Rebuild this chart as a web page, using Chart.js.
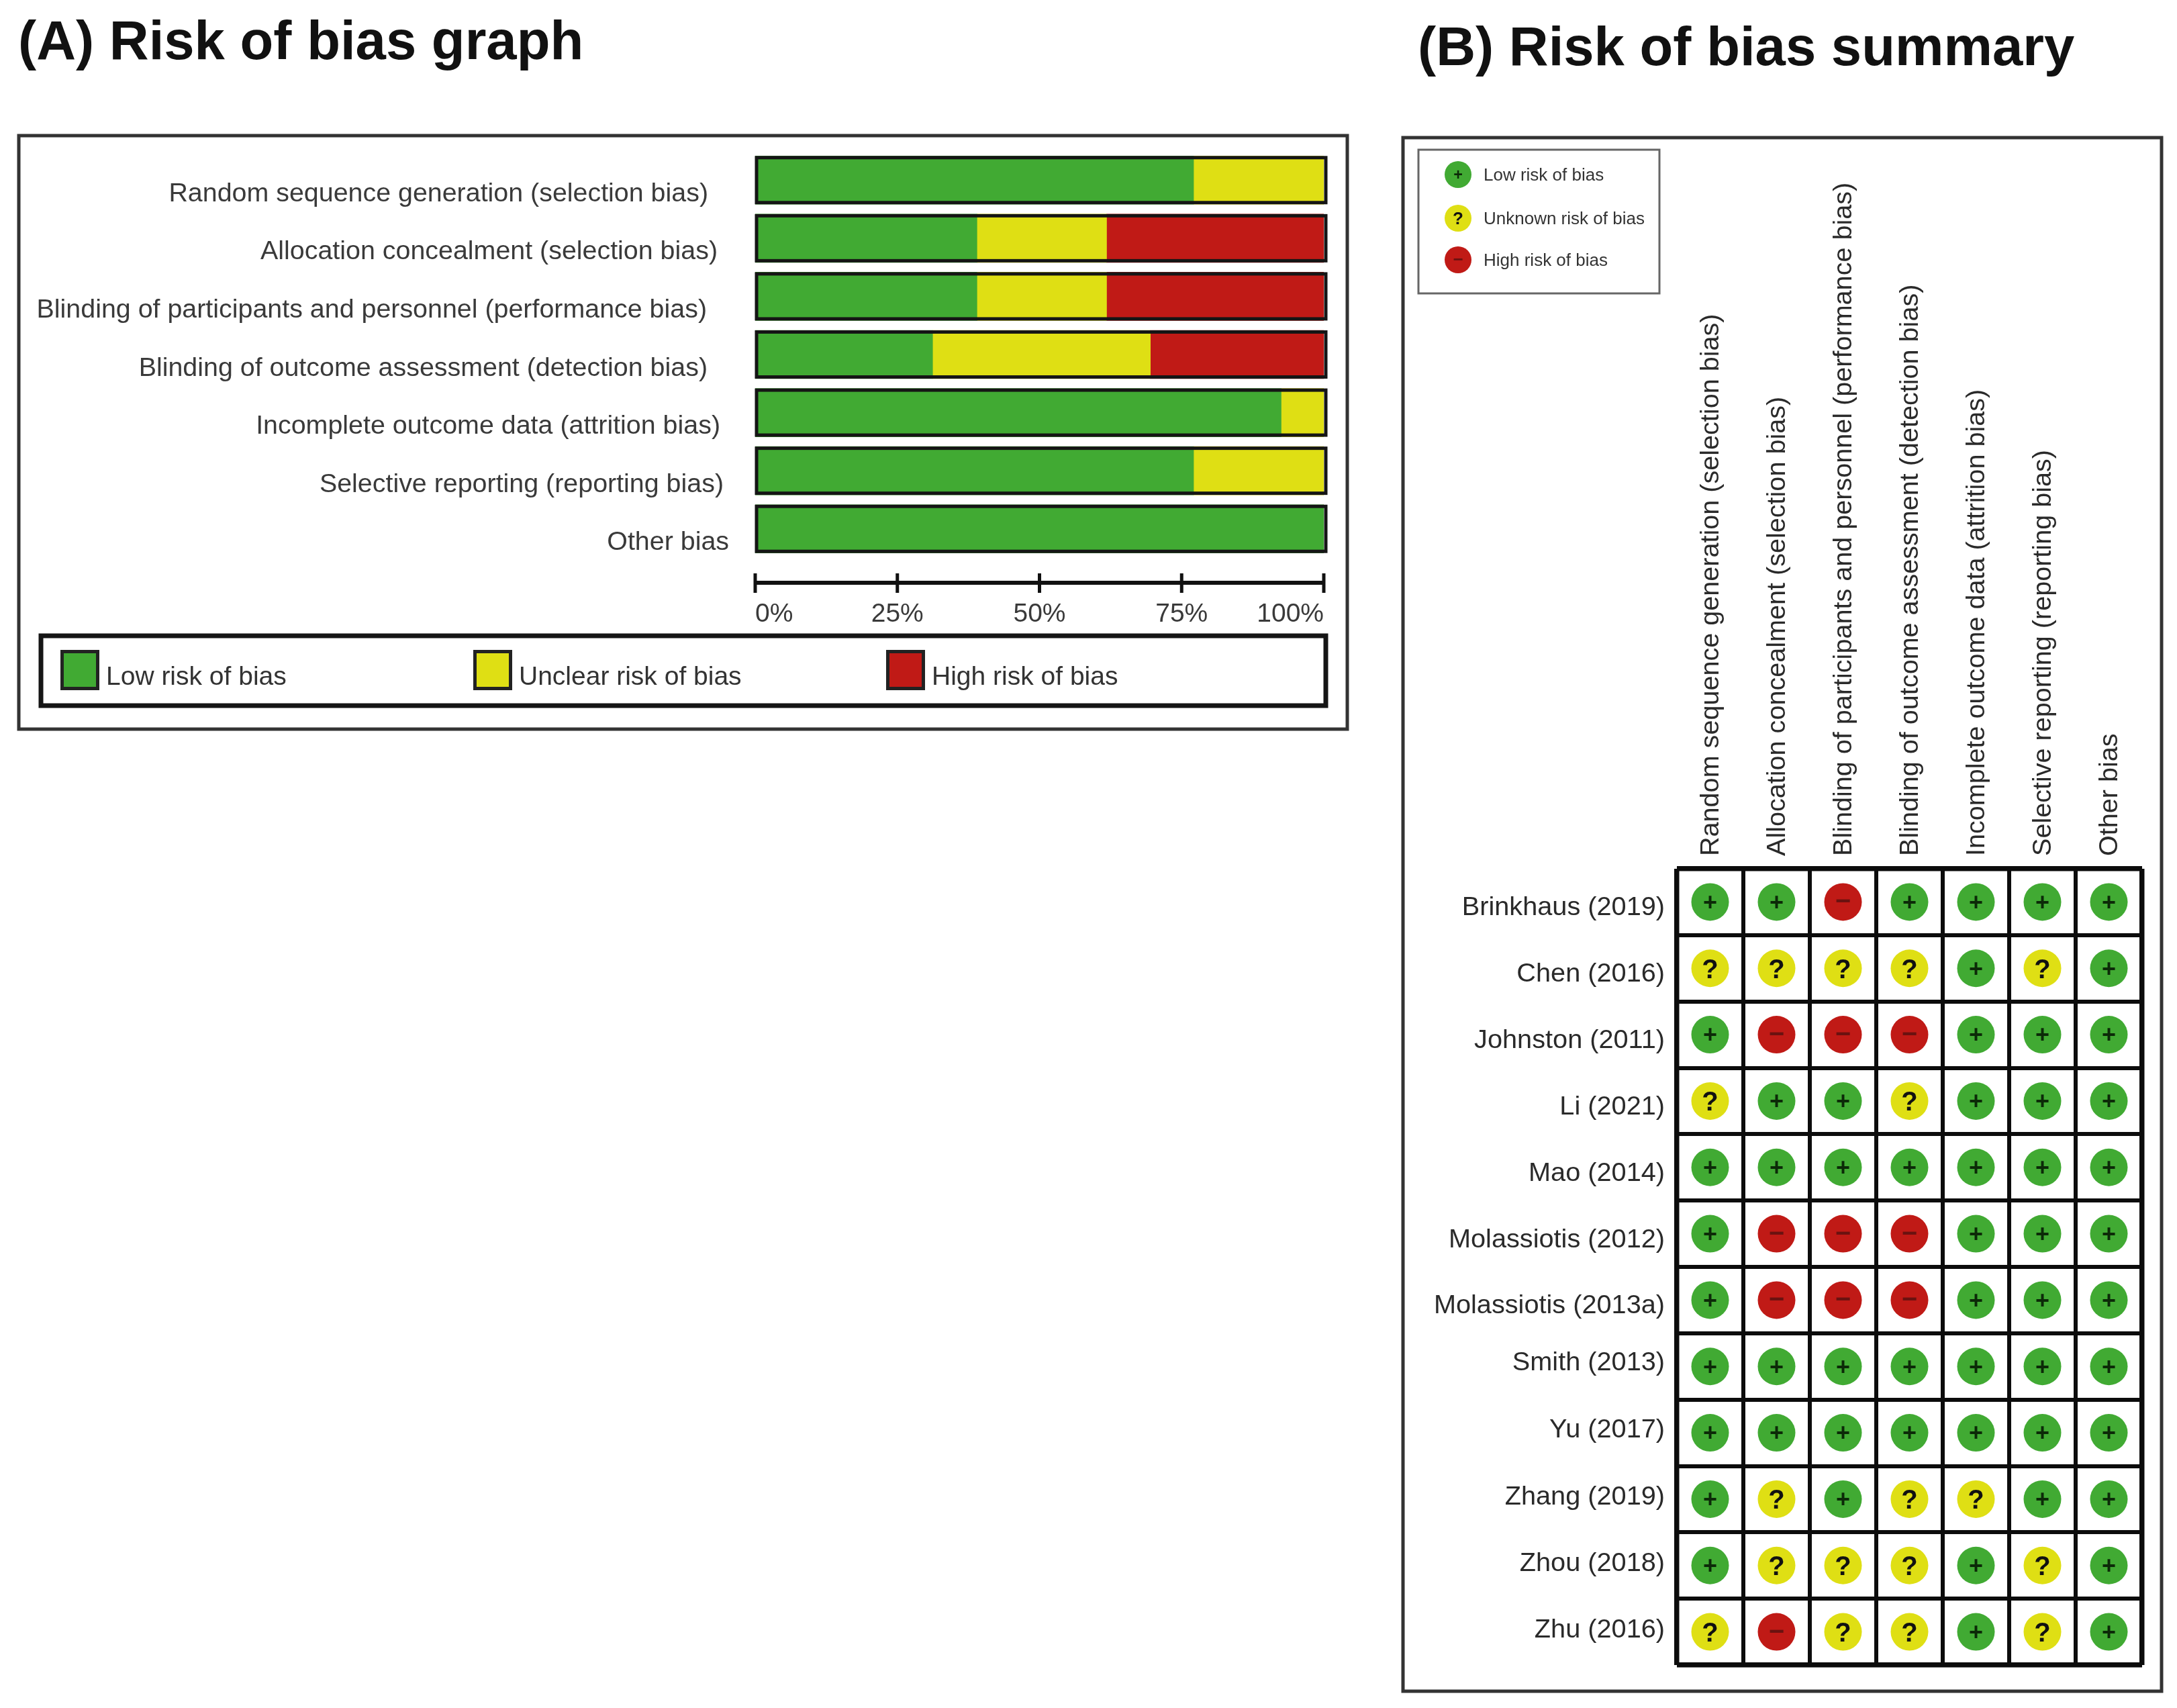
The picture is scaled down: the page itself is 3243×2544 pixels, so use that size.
<!DOCTYPE html>
<html>
<head>
<meta charset="utf-8">
<title>Risk of bias</title>
<script src="https://cdn.jsdelivr.net/npm/chart.js@4"></script>
<style>
  html, body { margin: 0; background: #fff; }
  canvas { position: absolute; left: 0; top: 0; }
</style>
</head>
<body>
<canvas id="graph" width="3243" height="2544"></canvas>
<canvas id="summary" width="3243" height="2544"></canvas>
<script>
// panel A
const domains = [
  'Random sequence generation (selection bias)',
  'Allocation concealment (selection bias)',
  'Blinding of participants and personnel (performance bias)',
  'Blinding of outcome assessment (detection bias)',
  'Incomplete outcome data (attrition bias)',
  'Selective reporting (reporting bias)',
  'Other bias'
];
const lowPct = [77.1, 39, 39, 31.2, 92.5, 77.1, 100];
const unclearPct = [22.9, 22.8, 22.8, 38.3, 7.5, 22.9, 0];
const highPct = [0, 38.2, 38.2, 30.5, 0, 0, 0];
const pctTicks = [0, 25, 50, 75, 100];
const graphLegend = ['Low risk of bias', 'Unclear risk of bias', 'High risk of bias'];

// panel B
const studies = [
  'Brinkhaus (2019)', 'Chen (2016)', 'Johnston (2011)', 'Li (2021)', 'Mao (2014)', 'Molassiotis (2012)',
  'Molassiotis (2013a)', 'Smith (2013)', 'Yu (2017)', 'Zhang (2019)', 'Zhou (2018)', 'Zhu (2016)'
];
const ratings = [
  '++-++++',
  '????+?+',
  '+---+++',
  '?++?+++',
  '+++++++',
  '+---+++',
  '+---+++',
  '+++++++',
  '+++++++',
  '+?+??++',
  '+???+?+',
  '?-??+?+'
];
const summaryLegend = ['Low risk of bias', 'Unknown risk of bias', 'High risk of bias'];

const GREEN = '#41aa33';
const YELLOW = '#dfdf14';
const RED = '#c01a16';
const FONT = '"Liberation Sans", Arial, sans-serif';

// the labels in the source figure don't line up, so these are per label
const labelRight = [1055, 1069, 1053, 1054, 1073, 1078, 1086];
const rowLabelDrop = [20, 20, 20, 20, 20, 20, 20, 6, 7, 8, 8, 8];

function box(ctx, x1, y1, x2, y2, width, color) {
  ctx.lineWidth = width;
  ctx.strokeStyle = color;
  ctx.strokeRect(x1, y1, x2 - x1, y2 - y1);
}

function text(ctx, str, x, y, font, color, align) {
  ctx.font = font;
  ctx.fillStyle = color;
  ctx.textAlign = align || 'left';
  ctx.textBaseline = 'alphabetic';
  ctx.fillText(str, x, y);
}

const graphDecor = {
  id: 'graphDecor',
  afterDatasetsDraw(chart) {
    const { ctx, scales } = chart;
    ctx.save();

    text(ctx, '(A) Risk of bias graph', 27, 88, 'bold 81.5px ' + FONT, '#111');
    box(ctx, 28, 202, 2007, 1086, 5, '#333');

    // black outline round each stacked bar
    chart.getDatasetMeta(0).data.forEach((bar, i) => {
      const half = bar.height / 2;
      box(ctx, scales.x.getPixelForValue(0) + 2, bar.y - half + 2.5, scales.x.getPixelForValue(100) + 3, bar.y + half - 2.5, 5, '#151515');
      text(ctx, domains[i], labelRight[i], scales.y.getPixelForValue(i) + 31.5, '39.4px ' + FONT, '#3a3a3a', 'right');
    });

    // axis sits below the plot area
    ctx.strokeStyle = '#111';
    ctx.lineWidth = 6;
    ctx.beginPath();
    ctx.moveTo(scales.x.getPixelForValue(0), 868);
    ctx.lineTo(scales.x.getPixelForValue(100) + 2, 868);
    ctx.stroke();
    ctx.lineWidth = 5;
    pctTicks.forEach((t, i) => {
      const x = scales.x.getPixelForValue(t);
      ctx.beginPath();
      ctx.moveTo(x, 854);
      ctx.lineTo(x, 883);
      ctx.stroke();
      const align = i === 0 ? 'left' : i === pctTicks.length - 1 ? 'right' : 'center';
      text(ctx, t + '%', x, 926, '39px ' + FONT, '#3a3a3a', align);
    });

    // legend
    box(ctx, 61, 947, 1975, 1051, 7, '#151515');
    const swatchX = [90, 705, 1320];
    chart.data.datasets.forEach((ds, i) => {
      ctx.fillStyle = ds.backgroundColor;
      ctx.fillRect(swatchX[i], 968, 58, 60);
      box(ctx, swatchX[i] + 2.5, 970.5, swatchX[i] + 55.5, 1025.5, 5, '#222');
      text(ctx, ds.label, swatchX[i] + 68, 1020, '39px ' + FONT, '#333');
    });
    ctx.restore();
  }
};

new Chart(document.getElementById('graph'), {
  type: 'bar',
  data: {
    labels: domains,
    datasets: [
      { label: graphLegend[0], data: lowPct, backgroundColor: GREEN },
      { label: graphLegend[1], data: unclearPct, backgroundColor: YELLOW },
      { label: graphLegend[2], data: highPct, backgroundColor: RED }
    ]
  },
  options: {
    indexAxis: 'y',
    responsive: false,
    animation: false,
    devicePixelRatio: 1,
    barThickness: 72,
    layout: { padding: { left: 1125, right: 3243 - 1972, top: 225, bottom: 2544 - 831 } },
    scales: {
      x: { display: false, stacked: true, min: 0, max: 100 },
      y: { display: false, stacked: true }
    },
    plugins: { legend: { display: false }, tooltip: { enabled: false } }
  },
  plugins: [graphDecor]
});

function cellsFor(mark) {
  const pts = [];
  ratings.forEach((row, r) => {
    row.split('').forEach((c, col) => {
      if (c === mark) pts.push({ x: col + 0.5, y: r + 0.5 });
    });
  });
  return pts;
}

function glyph(ctx, mark, x, y, size) {
  if (mark === '?') {
    text(ctx, '?', x, y + size * 0.36, 'bold ' + size + 'px ' + FONT, '#111', 'center');
  } else if (mark === '+') {
    text(ctx, '+', x, y + size * 0.31, 'bold ' + size * 0.9 + 'px ' + FONT, '#0c2a08', 'center');
  } else {
    text(ctx, '\u2212', x, y + size * 0.3, 'bold ' + size + 'px ' + FONT, '#6a1210', 'center');
  }
}

const summaryDecor = {
  id: 'summaryDecor',
  afterDatasetsDraw(chart) {
    const { ctx, scales } = chart;
    ctx.save();

    text(ctx, '(B) Risk of bias summary', 2112, 97, 'bold 81.5px ' + FONT, '#111');
    box(ctx, 2090, 205, 3220, 2519, 5, '#333');

    // glyphs inside the points
    chart.data.datasets.forEach((ds, d) => {
      chart.getDatasetMeta(d).data.forEach(pt => glyph(ctx, ds.mark, pt.x, pt.y, 40));
    });

    studies.forEach((s, i) => {
      text(ctx, s, 2480, scales.y.getPixelForValue(i + 0.5) + rowLabelDrop[i], '39.7px ' + FONT, '#2a2a2a', 'right');
    });

    domains.forEach((d, i) => {
      ctx.save();
      ctx.translate(scales.x.getPixelForValue(i + 0.5) + 12, 1275);
      ctx.rotate(-Math.PI / 2);
      text(ctx, d, 0, 0, '39.6px ' + FONT, '#2a2a2a');
      ctx.restore();
    });

    // small key
    box(ctx, 2113, 223, 2472, 437, 3, '#666');
    const keyY = [260, 325, 387];
    chart.data.datasets.forEach((ds, i) => {
      ctx.fillStyle = ds.backgroundColor;
      ctx.beginPath();
      ctx.arc(2172, keyY[i], 20, 0, Math.PI * 2);
      ctx.fill();
      glyph(ctx, ds.mark, 2172, keyY[i], 26);
      text(ctx, summaryLegend[i], 2210, keyY[i] + 9, '26px ' + FONT, '#333');
    });
    ctx.restore();
  }
};

function gridLine(last) {
  return {
    color: '#0c0c0c',
    drawTicks: false,
    lineWidth: c => (c.index === 0 || c.index === last ? 7.5 : 6)
  };
}

new Chart(document.getElementById('summary'), {
  type: 'scatter',
  data: {
    datasets: [
      { mark: '+', data: cellsFor('+'), backgroundColor: GREEN },
      { mark: '?', data: cellsFor('?'), backgroundColor: YELLOW },
      { mark: '-', data: cellsFor('-'), backgroundColor: RED }
    ]
  },
  options: {
    responsive: false,
    animation: false,
    devicePixelRatio: 1,
    elements: { point: { radius: 28, borderWidth: 0 } },
    layout: { padding: { left: 2498, right: 3243 - 3191, top: 1294, bottom: 2544 - 2480 } },
    scales: {
      x: {
        min: 0, max: domains.length,
        ticks: { display: false, stepSize: 1 },
        border: { display: false },
        grid: gridLine(domains.length)
      },
      y: {
        min: 0, max: studies.length, reverse: true,
        ticks: { display: false, stepSize: 1 },
        border: { display: false },
        grid: gridLine(studies.length)
      }
    },
    plugins: { legend: { display: false }, tooltip: { enabled: false } }
  },
  plugins: [summaryDecor]
});
</script>
</body>
</html>
